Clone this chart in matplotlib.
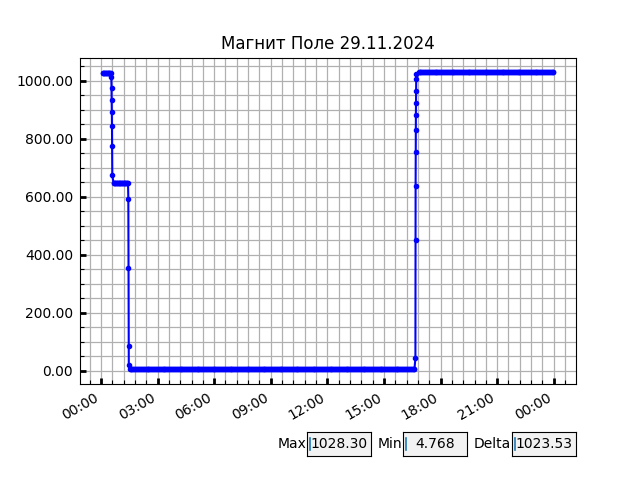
import datetime as dt
import numpy as np
import matplotlib
matplotlib.use("Agg")
import matplotlib.pyplot as plt
import matplotlib.dates as mdates
from matplotlib.ticker import AutoMinorLocator, MultipleLocator, FormatStrFormatter

# ---- data (minutes after midnight, field value) ----
title = "Магнит Поле 29.11.2024"
day = dt.datetime(2024, 11, 29)

# plateau levels
level_top_early = 1027.0
level_mid = 647.0
level_low = 4.9
level_top_late = 1028.0

# plateau sample times (minutes)
t_top_early = list(range(5, 33, 2))
t_mid = list(range(40, 87, 2))
t_low = list(range(91, 1000, 3))
t_top_late = list(range(1010, 1440, 3))

# transitions (readings)
t_drop1 = [33, 33.5, 34, 34.5, 35, 35.5, 36]
v_drop1 = [1011, 975, 934, 892, 844, 776, 673]
t_drop2 = [87, 87.5, 88, 88.5]
v_drop2 = [593, 353, 86, 20]
t_rise = [1000, 1000.3, 1000.6, 1000.9, 1001.2, 1001.5, 1001.8, 1002.1, 1002.4, 1002.7]
v_rise = [44, 449, 636, 754, 830, 882, 923, 965, 1006, 1023]

stat_labels = ["Max", "Min", "Delta"]
stat_values = ["1028.30", "4.768", "1023.53"]

minutes = (t_top_early + t_drop1 + t_mid + t_drop2 + t_low + t_rise + t_top_late)
values = ([level_top_early] * len(t_top_early) + v_drop1 +
          [level_mid] * len(t_mid) + v_drop2 +
          [level_low] * len(t_low) + v_rise +
          [level_top_late] * len(t_top_late))
times = [day + dt.timedelta(minutes=m) for m in minutes]

# ---- plot ----
fig = plt.figure(figsize=(6.4, 4.8), dpi=100)
ax = fig.add_subplot(111)
ax.plot(times, values, '.-', color='b', lw=1.5)
ax.set_title(title)

ax.xaxis.set_major_locator(mdates.HourLocator(byhour=range(0, 24, 3)))
ax.xaxis.set_major_formatter(mdates.DateFormatter('%H:%M'))
ax.xaxis.set_minor_locator(AutoMinorLocator(5))
ax.yaxis.set_major_locator(MultipleLocator(200))
ax.yaxis.set_minor_locator(AutoMinorLocator(4))
ax.yaxis.set_major_formatter(FormatStrFormatter('%.2f'))

ax.grid(which='both', color='#b0b0b0', lw=0.9)
ax.set_axisbelow(True)
ax.tick_params(which='major', direction='in', length=4, width=2, pad=5)
ax.tick_params(which='minor', direction='in', length=3, width=0.8)
fig.autofmt_xdate()
fig.subplots_adjust(left=0.125, right=0.9, top=0.88, bottom=0.2)

lefts = [0.48, 0.63, 0.80]
aligns = ['left', 'center', 'left']
for lab, val, l, al in zip(stat_labels, stat_values, lefts, aligns):
    bax = fig.add_axes([l, 0.05, 0.1, 0.05])
    bax.set_facecolor('0.95')
    bax.set_xticks([])
    bax.set_yticks([])
    bax.set_xlim(0, 1)
    bax.set_ylim(0, 1)
    bax.text(-0.01, 0.5, lab, ha='right', va='center', transform=bax.transAxes, fontsize=10)
    xpos = 0.05 if al == 'left' else 0.5
    bax.text(xpos, 0.5, val, ha=al, va='center', transform=bax.transAxes, fontsize=10)
    bax.plot([0.045, 0.045], [0.25, 0.74], color='#1f77b4', lw=1.2)

fig.savefig('out.png', dpi=100)
